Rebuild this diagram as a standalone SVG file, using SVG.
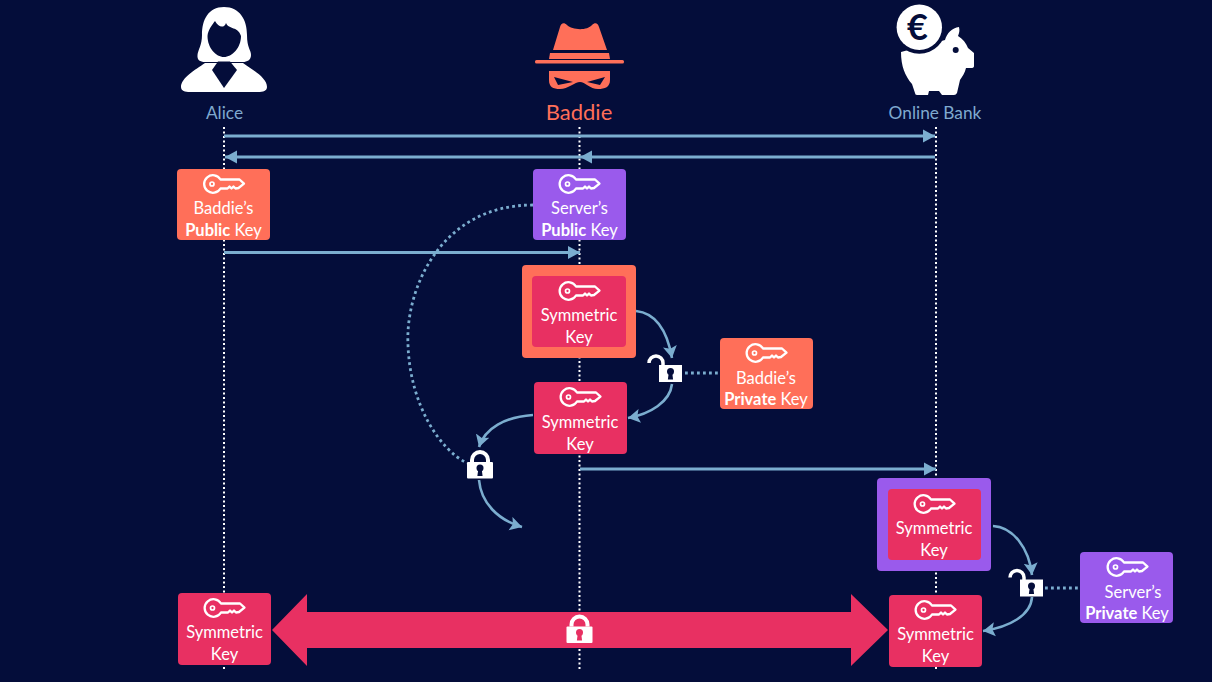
<svg xmlns="http://www.w3.org/2000/svg" width="1212" height="682" viewBox="0 0 1212 682">
<style>
text{font-family:"Lato","Open Sans","Liberation Sans",sans-serif;text-anchor:middle}
.t{fill:#fff;font-size:16.5px}
.b{font-weight:700}
.lab{fill:#7fa9cf;font-size:17.300px}
.life{stroke:#fff;stroke-width:2;stroke-dasharray:2 2.500;fill:none}
.msg{stroke:#7badcf;stroke-width:2.800;fill:none;marker-end:url(#ah)}
.cur{stroke:#7badcf;stroke-width:2.600;fill:none;marker-end:url(#ah2)}
.dot{stroke:#7badcf;stroke-width:2.800;stroke-dasharray:2.800 3.200;fill:none}
.or{fill:#ff6f59}.pu{fill:#9a5aec}.re{fill:#e83062}
</style>
<defs>
<marker id="ah" markerUnits="userSpaceOnUse" markerWidth="14" markerHeight="15" refX="12" refY="7" orient="auto"><path d="M0,0.500L12,7L0,13.500Z" fill="#7badcf"/></marker>
<marker id="ah2" markerUnits="userSpaceOnUse" markerWidth="14" markerHeight="16" refX="12" refY="7.500" orient="auto"><path d="M0,0.500L12,7.500L0,14.500L2.500,7.500Z" fill="#7badcf"/></marker>
<g id="key"><path d="M-4,-4.500A8.800,8.800 0 1 0 -4,4.500L3,4.500L5,2.500L7,4.500L9,2.500L11,4.500L14,4L19.500,-0.300L15,-4.500Z" fill="none" stroke="#fff" stroke-width="2.300" stroke-linejoin="round"/><circle cx="-12.500" cy="0" r="2" fill="none" stroke="#fff" stroke-width="1.700"/></g>
<g id="hole"><circle cx="0" cy="-2" r="3.500" fill="currentColor"/><path d="M-1.700,-1L1.700,-1L2.600,6L-2.600,6Z" fill="currentColor"/></g>
<g id="lock"><path d="M-8,-8V-10A8,8 0 0 1 8,-10V-8" fill="none" stroke="#fff" stroke-width="4"/><rect x="-13" y="-8" width="26" height="16.500" rx="1" fill="#fff"/><use href="#hole"/></g>
<g id="ulock"><path d="M-21.500,-10.500A7,7 0 0 1 -7.500,-10.500V-8" fill="none" stroke="#fff" stroke-width="3.500"/><rect x="-11.500" y="-8.500" width="23" height="17" fill="#fff"/><use href="#hole"/></g>
</defs>
<rect width="1212" height="682" fill="#040d3a"/>
<g id="connectors">
<path class="life" d="M224,127V670M579.500,127V670M936,127V670"/>
<path class="msg" d="M224,136H935"/>
<path class="msg" d="M935,157H225"/>
<path d="M592,150.500L580,157L592,163.500Z" fill="#7badcf"/>
<path class="msg" d="M224,252.500H580"/>
<path class="msg" d="M580,469H936"/>
<path class="cur" d="M636,311C655,313 667,330 672,358"/>
<path class="cur" d="M672,384C670,402 650,414 628,418"/>
<path class="cur" d="M533,415C505,417 485,428 479,447"/>
<path class="cur" d="M479,480C481,503 498,520 522,527"/>
<path class="cur" d="M993,526C1013,527 1029,548 1032,575"/>
<path class="cur" d="M1032,597C1031,615 1010,627 983,631"/>
<path class="dot" d="M533,205C440,205 405,290 408,345C410,405 440,450 467,463"/>
<path class="dot" d="M685,373H718"/>
<path class="dot" d="M1045,588H1078"/>
</g>
<g id="alice">
<path fill="#fff" d="M205,63C195,70 181,78 181,87C181,91 185,92 190,92L258,92C263,92 267,91 267,87C267,78 253,70 243,63Z"/>
<path fill="#fff" d="M224,7C240,7 247,20 247,35C247,48 251,50 251,55C251,60 247,62 243,62L205,62C200,62 197,60 197.500,55C198,50 202,45 202,35C202,20 208,7 224,7Z"/>
<path fill="#040d3a" d="M207.500,36C208,30 212,25 215,21C218,27 224,29 226,23C229,30 238,26 241,36C241,48 232,57 224,57C216,57 207.500,48 207.500,36Z"/>
<path fill="#040d3a" d="M212,70L218,61.500L230,61.500L237,70L224,88Z"/>
<text class="lab" x="224.500" y="119">Alice</text>
</g>
<g id="baddie">
<path class="or" d="M553,50L560,27C561,23 564,22 567,25C572,30 587,31 592,25C595,22 598,23 599,27L607,50Z"/>
<path class="or" d="M550,53H609L610,59H549Z"/>
<rect class="or" x="535" y="60" width="89" height="3.500" rx="1.500"/>
<path class="or" fill-rule="evenodd" d="M549,71L610,71L610,80C610,87 605,89 598,89C590,89 585,82 580,82C575,82 568,89 560,89C553,89 549,87 549,80ZM554,77L573,82L558,85ZM605,77L587,82L600,85Z"/>
<text x="579" y="120" font-size="22" fill="#ff6f59">Baddie</text>
</g>
<g id="bank">
<path fill="#fff" d="M901,52L945,40C947,33 952,28 959,27C960,31 959,33 958,36C963,39 966,43 968,48L974,53L974,66Q974,68 971,68L966,68C965,73 962,77 960,80L957,93Q956,95 954,95L942,95L939,91L929,91L928,95L917,95Q915,95 915,93L912,84C905,76 901,66 901,52Z"/>
<circle cx="919.300" cy="27.300" r="26.500" fill="#040d3a"/>
<circle cx="919.300" cy="27.300" r="22.700" fill="#fff"/>
<circle cx="955.700" cy="50" r="3" fill="#040d3a"/>
<text x="917.500" y="40" font-size="36" font-weight="700" fill="#040d3a">€</text>
<text class="lab" x="935" y="119">Online Bank</text>
</g>
<g id="n-baddie-public"><rect class="or" x="177" y="169" width="93" height="71" rx="4"/><use href="#key" x="224.500" y="184"/><text class="t" x="223.500" y="213.500">Baddie’s</text><text class="t" x="223.500" y="235.500"><tspan class="b">Public</tspan> Key</text></g>
<g id="n-server-public"><rect class="pu" x="533" y="169" width="93" height="71" rx="4"/><use href="#key" x="580" y="184"/><text class="t" x="579.500" y="213.500">Server’s</text><text class="t" x="579.500" y="235.500"><tspan class="b">Public</tspan> Key</text></g>
<g id="n-sym-wrapped-baddie"><rect class="or" x="522" y="265" width="114" height="93" rx="4"/><rect class="re" x="532" y="276" width="94" height="71" rx="4"/><use href="#key" x="580" y="291"/><text class="t" x="579" y="320.500">Symmetric</text><text class="t" x="579" y="342.500">Key</text></g>
<g id="n-sym-baddie"><rect class="re" x="534" y="382" width="93" height="72" rx="4"/><use href="#key" x="581" y="397"/><text class="t" x="580" y="427.500">Symmetric</text><text class="t" x="580" y="449.500">Key</text></g>
<g id="n-baddie-private"><rect class="or" x="720" y="338" width="93" height="71" rx="4"/><use href="#key" x="767" y="353"/><text class="t" x="766" y="383.500">Baddie’s</text><text class="t" x="766" y="404.500"><tspan class="b">Private</tspan> Key</text></g>
<g id="n-sym-wrapped-server"><rect class="pu" x="877" y="478" width="114" height="93" rx="4"/><rect class="re" x="888" y="489" width="93" height="71" rx="4"/><use href="#key" x="935" y="504"/><text class="t" x="934" y="533.500">Symmetric</text><text class="t" x="934" y="555.500">Key</text></g>
<g id="n-sym-bank"><rect class="re" x="889" y="595" width="93" height="72" rx="4"/><use href="#key" x="936" y="610"/><text class="t" x="935.500" y="639.500">Symmetric</text><text class="t" x="935.500" y="661.500">Key</text></g>
<g id="n-server-private"><rect class="pu" x="1080" y="552" width="93" height="71" rx="4"/><use href="#key" x="1128" y="567"/><text class="t" x="1133" y="597.500">Server’s</text><text class="t" x="1127" y="618.500"><tspan class="b">Private</tspan> Key</text></g>
<g id="n-sym-alice"><rect class="re" x="178" y="593" width="93" height="72" rx="4"/><use href="#key" x="225" y="608"/><text class="t" x="224.500" y="637.500">Symmetric</text><text class="t" x="224.500" y="659.500">Key</text></g>
<g id="channel"><path class="re" d="M272,630L307,594V612H851V594L888,630L851,666V648H307V666Z"/>
<use href="#lock" x="579.500" y="634.500" style="color:#e83062"/></g>
<g id="lock-baddie-open" style="color:#040d3a"><use href="#ulock" x="670.500" y="373.500"/></g>
<g id="lock-baddie-closed" style="color:#040d3a"><use href="#lock" x="480" y="470"/></g>
<g id="lock-server-open" style="color:#040d3a"><use href="#ulock" x="1031.500" y="588"/></g>
</svg>
